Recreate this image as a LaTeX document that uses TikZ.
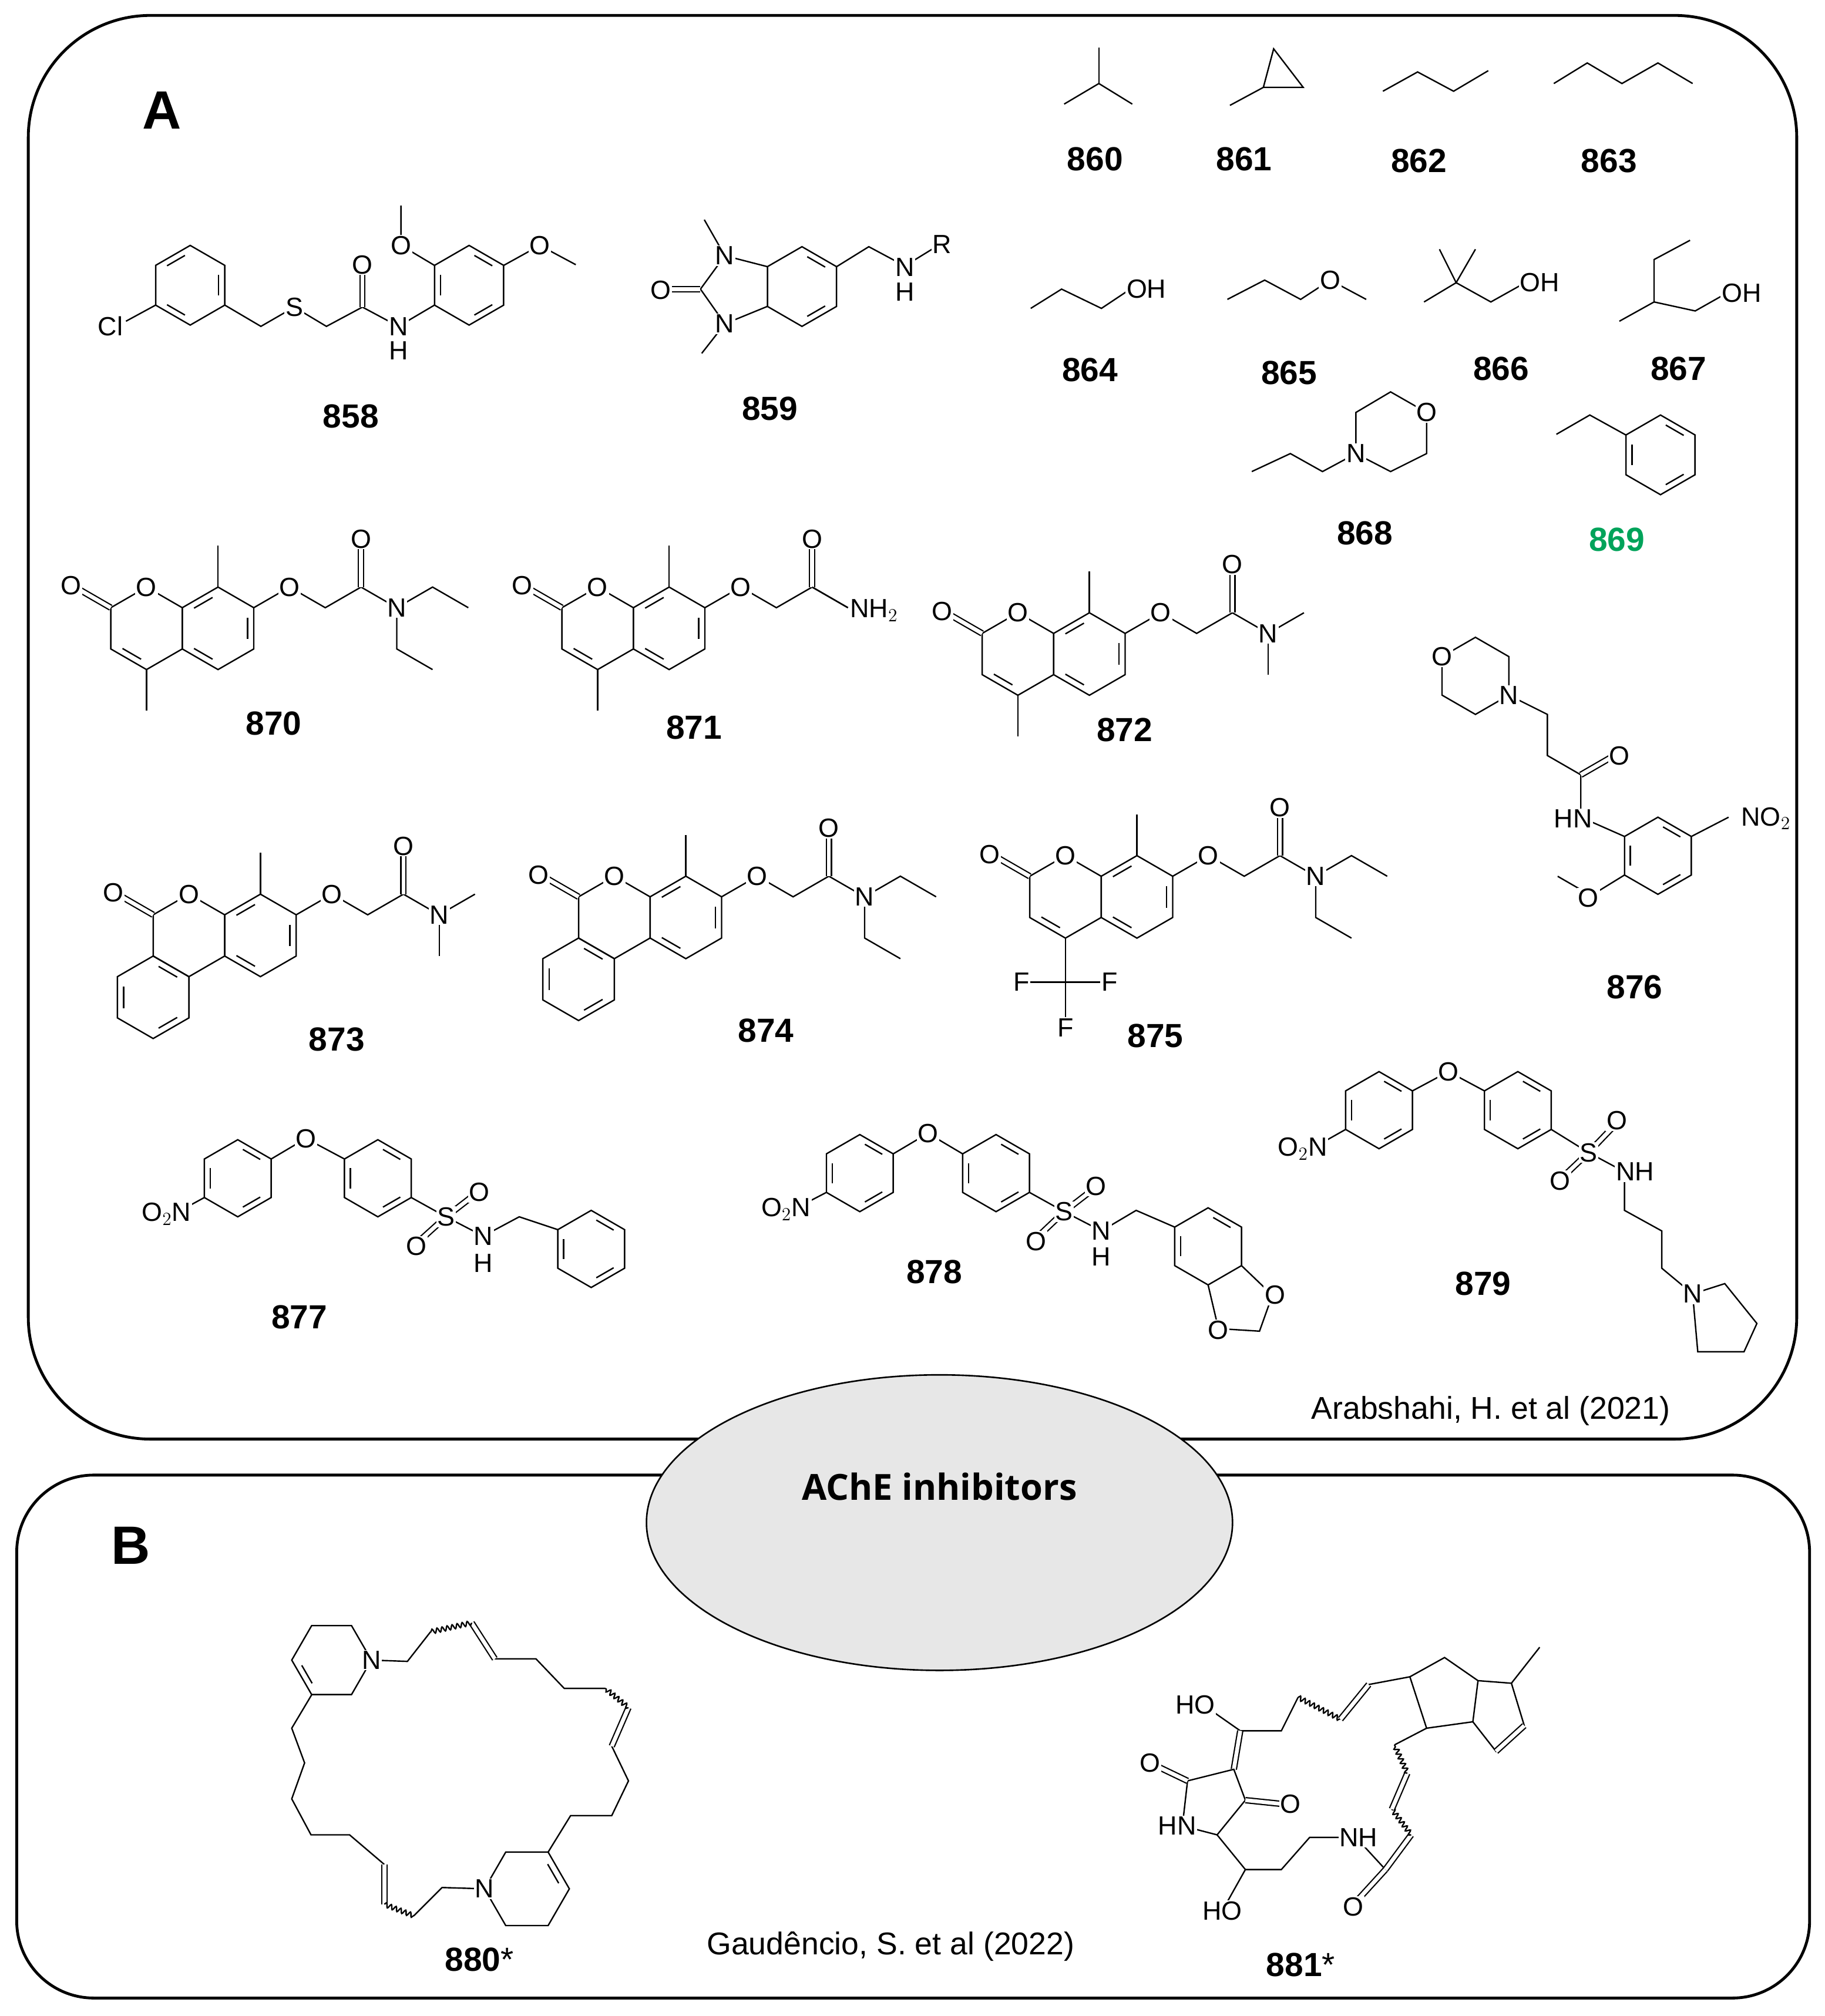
\documentclass[tikz,border=0pt]{standalone}
\usepackage{fontspec}
\setmainfont{Liberation Sans}
\newfontfamily\osans{Open Sans}
\usetikzlibrary{decorations.pathmorphing,shapes.geometric}
\definecolor{grn}{RGB}{0,163,90}
\definecolor{ellfill}{RGB}{231,231,231}
\newcommand\af{\fontsize{20.5}{20.5}\selectfont}
\newcommand\lf{\fontsize{26}{26}\selectfont\bfseries}
\newcounter{an}
\newcommand\atom[2]{\stepcounter{an}\node[atm] (atom\arabic{an}) at (#1) {#2};}
\newcommand\lbl[2]{\stepcounter{an}\node[lb] (lab\arabic{an}) at (#1) {#2};}
% hexagon: cx cy r start
\newcommand\hexr[4]{\draw ({#1+#3*cos(#4)},{#2+#3*sin(#4)}) \foreach \k in {1,...,5}{ -- ({#1+#3*cos(#4+60*\k)},{#2+#3*sin(#4+60*\k)})} -- cycle;}
% inner double lines: cx cy r start list
\newcommand\hexd[5]{\foreach \k in {#5}{\draw ({#1+0.76*#3*cos(#4+60*\k+10)},{#2+0.76*#3*sin(#4+60*\k+10)}) -- ({#1+0.76*#3*cos(#4+60*\k+50)},{#2+0.76*#3*sin(#4+60*\k+50)});}}
\newcommand\coumcore{%
 \hexr{0}{0}{30}{-90}\hexr{52}{0}{30}{-90}\hexd{52}{0}{30}{-90}{1,3,5}
 \draw[dbl] (-26,-15)--(-52,-30);
 \draw (52,-30)--(52,-60);
 \draw (78,-15)--(104,-30)--(130,-15)--(156,-30)--(182,-15);
 \draw[dbl] (156,-30)--(156,-62);
 \atom{0,-30}{O}\atom{-55,-31}{O}\atom{104,-30}{O}\atom{156,-65}{O}}
\newcommand\nethyl{\draw (182,-15)--(208,-30)--(234,-15);\draw (182,-15)--(182,15)--(208,30);\atom{182,-15}{N}}
\newcommand\nmethyl{\draw (182,-15)--(208,-30);\draw (182,-15)--(182,15);\atom{182,-15}{N}}
\begin{document}
\begin{tikzpicture}[x=1pt,y=-1pt,line width=1.1pt,
 dbl/.style={double,double distance=3pt,line width=1pt},
 atm/.style={fill=white,inner sep=0.8pt,font=\af},
 lb/.style={font=\lf},
 wv/.style={decorate,decoration={snake,amplitude=1.8pt,segment length=4pt}}]
\useasboundingbox (0,0) rectangle (1420,1569);
% frames
\draw[line width=2.2pt,rounded corners=95pt] (22,12) rectangle (1398,1120);
\draw[line width=2.2pt,rounded corners=60pt] (13,1148) rectangle (1408,1555);
\node[ellipse,draw,fill=ellfill,line width=1.2pt,minimum width=456pt,minimum height=230pt] (ell) at (731,1185) {};
\node[font=\osans\bfseries\fontsize{28}{28}\selectfont] (ache) at (731,1157) {AChE inhibitors};
\node[font=\bfseries\fontsize{42}{42}\selectfont] (lA) at (126,86) {A};
\node[font=\bfseries\fontsize{42}{42}\selectfont] (lB) at (102,1203) {B};
\node[font=\fontsize{24.5}{24.5}\selectfont] (refA) at (1160,1098) {Arabshahi, H. et al (2021)};
\node[font=\fontsize{24.5}{24.5}\selectfont] (refB) at (693,1515) {Gaudêncio, S. et al (2022)};

% 858
\hexr{148}{222}{31}{-90}\hexd{148}{222}{31}{-90}{1,3,5}
\hexr{365}{222}{31}{-90}\hexd{365}{222}{31}{-90}{0,2,4}
\draw (121,237.5)--(98,250);
\draw (175,237.5)--(203,254)--(229,239)--(254,254)--(282,239)--(310,254)--(338,237.5);
\draw[dbl] (282,239)--(282,208);
\draw (338,206.5)--(312,191)--(312,160);
\draw (392,206.5)--(420,191)--(448,206);
\atom{86,254}{Cl}\atom{229,239}{S}\atom{282,206}{O}\atom{310,254}{N}\atom{310,273}{H}
\atom{312,191}{O}\atom{420,191}{O}
\lbl{273,324}{858}
% 859
\hexr{624}{223}{31}{-90}\hexd{624}{223}{31}{-90}{0,2}
\draw (597,207.5)--(564,199)--(545,225)--(564,252)--(597,238.5);
\draw[dbl] (545,225)--(518,225);
\draw (564,199)--(548,171);\draw (564,252)--(546,275);
\draw (651,207.5)--(676,192)--(704,207)--(730,191);
\atom{564,199}{N}\atom{564,252}{N}\atom{514,226}{O}\atom{704,208}{N}\atom{704,227}{H}\atom{733,190}{R}
\lbl{599,318}{859}
% 860-863
\draw (855,37)--(855,65);\draw (828,81)--(855,65)--(881,81);
\draw (957,82)--(983,68);\draw (983,68)--(1014,68)--(991,38)--cycle;
\draw (1076,71)--(1103,56)--(1131,71)--(1158,55);
\draw (1209,65)--(1235,49)--(1262,65)--(1290,49)--(1317,65);
\lbl{852,124}{860}\lbl{968,124}{861}\lbl{1104,125}{862}\lbl{1252,125}{863}
% 864-867
\draw (802,240)--(826,225)--(857,240)--(878,226);\atom{892,225}{OH}
\draw (955,233)--(984,218)--(1012,233)--(1035,218)--(1063,233);\atom{1035,218}{O}
\draw (1120,194)--(1133,220)--(1148,194);\draw (1108,235)--(1133,220)--(1160,235)--(1185,221);\atom{1198,220}{OH}
\draw (1260,250)--(1287,235)--(1287,202)--(1315,187);\draw (1287,235)--(1319,242)--(1342,229);\atom{1355,228}{OH}
\lbl{848,288}{864}\lbl{1003,290}{865}\lbl{1168,287}{866}\lbl{1306,287}{867}
% 868
\draw (974,367)--(1004,353)--(1029,367)--(1055,353);
\draw (1055,353)--(1055,321)--(1082,305)--(1110,321)--(1110,353)--(1082,367)--cycle;
\atom{1055,353}{N}\atom{1110,321}{O}
\lbl{1062,415}{868}
% 869
\hexr{1292}{354}{31}{-90}\hexd{1292}{354}{31}{-90}{0,2,4}
\draw (1265,338.5)--(1237,323)--(1211,338);
\node[lb,text=grn] (l869) at (1258,420) {869};
% coumarins
\begin{scope}[shift={(114,489)},scale=1.07]
 \coumcore\hexd{0}{0}{30}{-90}{3}\nethyl\draw (0,30)--(0,60);
\end{scope}
\lbl{213,563}{870}
\begin{scope}[shift={(465,489)},scale=1.07]
 \coumcore\hexd{0}{0}{30}{-90}{3}\draw (156,-30)--(182,-15);\draw (0,30)--(0,60);
 \atom{201,-13}{NH$_2$}
\end{scope}
\lbl{540,566}{871}
\begin{scope}[shift={(792,509)},scale=1.07]
 \coumcore\hexd{0}{0}{30}{-90}{3}\nmethyl\draw (0,30)--(0,60);
\end{scope}
\lbl{875,568}{872}
\begin{scope}[shift={(829,698)},scale=1.07]
 \coumcore\hexd{0}{0}{30}{-90}{3}\nethyl
 \draw (0,30)--(0,62);\draw (-30,62)--(30,62);\draw (0,62)--(0,92);
 \atom{-32,62}{F}\atom{32,62}{F}\atom{0,95}{F}
\end{scope}
\lbl{899,806}{875}
\begin{scope}[shift={(147,728)},scale=1.07]
 \coumcore\nmethyl\hexr{-26}{45}{30}{-90}\hexd{-26}{45}{30}{-90}{0,2,4}
\end{scope}
\lbl{262,809}{873}
\begin{scope}[shift={(478,714)},scale=1.07]
 \coumcore\nethyl\hexr{-26}{45}{30}{-90}\hexd{-26}{45}{30}{-90}{0,2,4}
\end{scope}
\lbl{596,802}{874}
% 876
\hexr{1148}{526}{30}{-90}
\draw (1174,541)--(1204,556)--(1204,588)--(1230,603)--(1230,636)--(1264,651);
\draw[dbl] (1230,603)--(1256,588);
\hexr{1290}{666}{30}{-90}\hexd{1290}{666}{30}{-90}{0,2,4}
\draw (1316,651)--(1345,636);
\draw (1264,681)--(1238,697)--(1212,682);
\atom{1122,511}{O}\atom{1174,541}{N}\atom{1260,588}{O}\atom{1224,637}{HN}
\atom{1374,637}{NO$_2$}\atom{1236,699}{O}
\lbl{1272,768}{876}
% 877
\hexr{185}{917}{30}{-90}\hexd{185}{917}{30}{-90}{0,2,4}
\hexr{294}{917}{30}{-90}\hexd{294}{917}{30}{-90}{0,2,4}
\hexr{460}{972}{30}{-90}\hexd{460}{972}{30}{-90}{0,2,4}
\draw (211,902)--(238,886)--(268,902);
\draw (159,932)--(137,944);
\draw (320,932)--(347,947)--(376,962)--(404,947)--(434,957);
\draw[dbl] (347,947)--(369,930);\draw[dbl] (347,947)--(326,966);
\atom{238,886}{O}\node[atm,anchor=east] (n877) at (150,945) {O$_2$N};
\atom{347,947}{S}\atom{373,928}{O}\atom{324,970}{O}\atom{376,962}{N}\atom{376,983}{H}
\lbl{233,1025}{877}
% 878
\hexr{669}{913}{30}{-90}\hexd{669}{913}{30}{-90}{0,2,4}
\hexr{775}{913}{30}{-90}\hexd{775}{913}{30}{-90}{0,2,4}
\hexr{940}{970}{30}{-90}\hexd{940}{970}{30}{-90}{4,0}
\draw (695,898)--(722,882)--(749,898);
\draw (643,928)--(620,940);
\draw (801,928)--(828,943)--(857,958)--(884,942)--(914,955);
\draw[dbl] (828,943)--(850,926);\draw[dbl] (828,943)--(808,962);
\draw (966,985)--(990,1008)--(980,1036)--(948,1034)--(940,1000);
\atom{722,882}{O}\node[atm,anchor=east] (n878) at (632,941) {O$_2$N};
\atom{828,943}{S}\atom{853,923}{O}\atom{806,966}{O}\atom{857,958}{N}\atom{857,978}{H}
\atom{992,1008}{O}\atom{948,1035}{O}
\lbl{727,990}{878}
% 879
\hexr{1073}{864}{30}{-90}\hexd{1073}{864}{30}{-90}{0,2,4}
\hexr{1181}{864}{30}{-90}\hexd{1181}{864}{30}{-90}{0,2,4}
\draw (1099,849)--(1127,834)--(1155,849);
\draw (1047,879)--(1024,892);
\draw (1207,879)--(1236,897)--(1264,912);
\draw[dbl] (1236,897)--(1258,874);\draw[dbl] (1236,897)--(1215,917);
\draw (1264,912)--(1264,942)--(1293,958)--(1293,987)--(1317,1007);
\draw (1317,1007)--(1342,999)--(1367,1030)--(1357,1052)--(1321,1052)--cycle;
\atom{1127,834}{O}\node[atm,anchor=east] (n879) at (1034,894) {O$_2$N};
\atom{1236,897}{S}\atom{1258,872}{O}\atom{1214,919}{O}
\node[atm,anchor=west] (nh879) at (1256,912) {NH};\atom{1317,1007}{N}
\lbl{1154,999}{879}
% 880
\hexr{258}{1292}{31}{0}\hexd{258}{1292}{31}{0}{2}
\hexr{410}{1470}{33}{0}\hexd{410}{1470}{33}{0}{5}
\draw (242.5,1319)--(227,1345)--(237,1372)--(227,1400)--(242,1428)--(272,1428)--(299,1451);
\draw[dbl] (299,1451)--(299,1482);
\draw[wv] (299,1482)--(322,1491);
\draw (322,1491)--(344,1469)--(377,1470);
\draw (426.5,1441.4)--(444,1413)--(476,1413)--(489,1386)--(476,1359);
\draw[dbl] (476,1359)--(489,1329);
\draw[wv] (489,1329)--(471,1314);
\draw (471,1314)--(439,1314)--(417,1291)--(385,1291);
\draw[dbl] (385,1291)--(367,1263);
\draw[wv] (367,1263)--(335,1270);
\draw (335,1270)--(317,1293)--(289,1292);
\atom{289,1292}{N}\atom{377,1470}{N}
\node[lb] (l880) at (373,1525) {880\textmd{*}};
% 881
\draw (1097,1305)--(1124,1290)--(1150,1308)--(1146,1340)--(1110,1345)--cycle;
\draw (1150,1308)--(1176,1310)--(1186,1343)--(1164,1363)--(1146,1340);
\draw[dbl] (1186,1343)--(1164,1363);
\draw (1176,1310)--(1198,1282);
\draw (945,1333)--(965,1347)--(997,1347)--(1010,1321);
\draw[wv] (1010,1321)--(1043,1338);
\draw[dbl] (1043,1338)--(1065,1311);
\draw (1065,1311)--(1097,1305);
\draw[dbl] (965,1347)--(960,1377);
\draw (960,1377)--(924,1386)--(920,1421)--(947,1428)--(969,1401)--cycle;
\draw[dbl] (924,1386)--(899,1374);
\draw[dbl] (969,1401)--(998,1404);
\draw (947,1428)--(969,1455)--(955,1480);
\draw (969,1455)--(997,1455)--(1019,1430)--(1055,1430)--(1078,1455);
\draw[dbl] (1078,1455)--(1057,1478);
\draw[dbl] (1078,1455)--(1098,1428);
\draw[wv] (1098,1428)--(1083,1408);
\draw[dbl] (1083,1408)--(1095,1380);
\draw[wv] (1095,1380)--(1085,1358);
\draw (1085,1358)--(1110,1345);
\atom{930,1327}{HO}\atom{895,1372}{O}\atom{1004,1404}{O}\atom{916,1421}{HN}
\atom{951,1487}{HO}\atom{1057,1430}{NH}\atom{1053,1484}{O}
\node[lb] (l881) at (1012,1529) {881\textmd{*}};
\end{tikzpicture}
\end{document}
